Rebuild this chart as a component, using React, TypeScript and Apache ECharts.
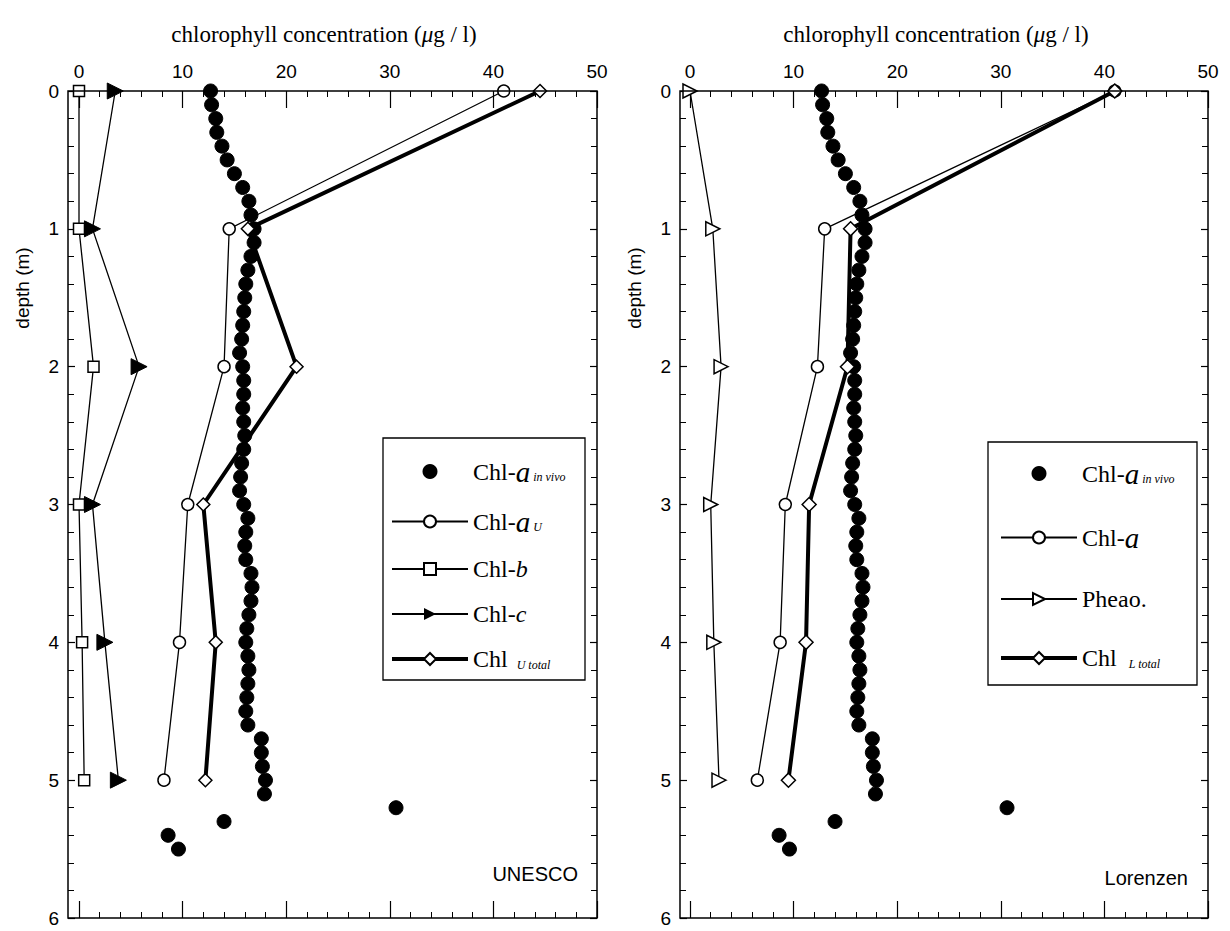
import React, { useEffect, useRef } from 'react';
import * as echarts from 'echarts';

// ---- Data ----
const profileDepths = [
  0, 0.1, 0.2, 0.3, 0.4, 0.5, 0.6, 0.7, 0.8, 0.9,
  1.0, 1.1, 1.2, 1.3, 1.4, 1.5, 1.6, 1.7, 1.8, 1.9,
  2.0, 2.1, 2.2, 2.3, 2.4, 2.5, 2.6, 2.7, 2.8, 2.9,
  3.0, 3.1, 3.2, 3.3, 3.4, 3.5, 3.6, 3.7, 3.8, 3.9,
  4.0, 4.1, 4.2, 4.3, 4.4, 4.5, 4.6, 4.7, 4.8, 4.9,
  5.0, 5.1, 5.2, 5.3, 5.4, 5.5,
];
const chlaInVivo = [
  12.7, 12.8, 13.2, 13.3, 13.8, 14.3, 15.0, 15.8, 16.4, 16.6,
  16.9, 16.9, 16.6, 16.3, 16.1, 16.0, 15.9, 15.8, 15.7, 15.5,
  15.8, 15.9, 15.9, 15.8, 15.9, 16.0, 15.9, 15.7, 15.6, 15.5,
  15.9, 16.3, 16.1, 16.0, 16.1, 16.6, 16.7, 16.6, 16.4, 16.2,
  16.1, 16.3, 16.4, 16.3, 16.2, 16.1, 16.3, 17.6, 17.6, 17.7,
  18.0, 17.9, 30.6, 14.0, 8.6, 9.6,
];
const sampleDepths = [0, 1, 2, 3, 4, 5];
// UNESCO panel
const chlaU = [41.0, 14.5, 14.0, 10.5, 9.7, 8.2];
const chlb = [0.0, 0.0, 1.4, 0.0, 0.3, 0.5];
const chlc = [3.5, 1.3, 5.8, 1.3, 2.5, 3.8];
const chlUTotal = [44.5, 16.3, 21.0, 12.0, 13.2, 12.2];
// Lorenzen panel
const chlaL = [41.0, 13.0, 12.3, 9.2, 8.7, 6.5];
const pheao = [0.0, 2.2, 3.0, 2.0, 2.3, 2.8];
const chlLTotal = [41.0, 15.5, 15.2, 11.5, 11.2, 9.5];

const SANS = '"Liberation Sans", Arial, Helvetica, sans-serif';
const SERIF = '"Liberation Serif", "Times New Roman", serif';

const pairs = (xs: number[], ys: number[]) => xs.map((x, i) => [x, ys[i]]);

function xAxes(gridIndex: number) {
  const base: any = {
    type: 'value', gridIndex, min: 0, max: 50, interval: 10,
    splitLine: { show: false }, minorSplitLine: { show: false },
    axisLine: { show: false, onZero: false },
    axisTick: { show: true, inside: true, length: 17, lineStyle: { color: '#000', width: 1.2 } },
    minorTick: { show: true, splitNumber: 5, length: 6, lineStyle: { color: '#000', width: 1 } },
  };
  return [
    { ...base, position: 'top', axisLabel: { show: true, color: '#000', fontFamily: SANS, fontSize: 19, margin: 10 } },
    { ...base, position: 'bottom', axisLabel: { show: false } },
  ];
}
function yAxes(gridIndex: number, offset: number) {
  const base: any = {
    type: 'value', gridIndex, min: 0, max: 6, interval: 1, inverse: true,
    splitLine: { show: false }, minorSplitLine: { show: false },
    axisLine: { show: false, onZero: false },
    axisTick: { show: true, inside: true, length: 7, lineStyle: { color: '#000', width: 1.2 } },
    minorTick: { show: true, splitNumber: 5, length: 6, lineStyle: { color: '#000', width: 1 } },
  };
  return [
    { ...base, position: 'left', offset, axisLabel: { show: true, color: '#000', fontFamily: SANS, fontSize: 19, margin: 9 } },
    { ...base, position: 'right', axisLabel: { show: false } },
  ];
}

const openStyle = { color: '#fff', borderColor: '#000', borderWidth: 1.5, opacity: 1 };
const solidStyle = { color: '#000', borderColor: '#000', opacity: 1 };

const legendLabels: Record<string, string> = {
  invivoU: '{n|Chl-}{a|a}{s| in vivo}',
  chlaU: '{n|Chl-}{a|a}{s| U}',
  chlb: '{n|Chl-}{i|b}',
  chlc: '{n|Chl-}{i|c}',
  totalU: '{n|Chl }{s| U total}',
  invivoL: '{n|Chl-}{a|a}{s| in vivo}',
  chlaL: '{n|Chl-}{a|a}',
  pheao: '{n|Pheao.}',
  totalL: '{n|Chl }{s|  L total}',
};
const legendRich = {
  n: { fontFamily: SERIF, fontSize: 24, lineHeight: 15, color: '#000' },
  a: { fontFamily: SERIF, fontSize: 29, fontStyle: 'italic', lineHeight: 15, color: '#000' },
  i: { fontFamily: SERIF, fontSize: 24, fontStyle: 'italic', lineHeight: 15, color: '#000' },
  s: { fontFamily: SERIF, fontSize: 12, fontStyle: 'italic', lineHeight: 23, verticalAlign: 'bottom', color: '#000' },
};

export default function App() {
  const ref = useRef<HTMLDivElement>(null);
  useEffect(() => {
    if (!ref.current) return;
    const chart = echarts.init(ref.current, undefined, { renderer: 'svg' });
    const titleRich = {
      n: { fontFamily: SERIF, fontSize: 23, color: '#000' },
      i: { fontFamily: SERIF, fontSize: 23, fontStyle: 'italic', color: '#000' },
    };
    const titleText = '{n|chlorophyll concentration (}{i|\u03bc}{n|g / l)}';
    const legendText = { fontFamily: SERIF, fontSize: 24, color: '#000', lineHeight: 15, rich: legendRich };
    const option: any = {
      animation: false,
      backgroundColor: '#fff',
      textStyle: { fontFamily: SANS },
      grid: [
        { left: 79, top: 91, width: 518, height: 827, outerBoundsMode: 'none' },
        { left: 690, top: 91, width: 518, height: 827, outerBoundsMode: 'none' },
      ],
      xAxis: [...xAxes(0), ...xAxes(1)],
      yAxis: [...yAxes(0, 11), ...yAxes(1, 10)],
      legend: [
        {
          orient: 'vertical', left: 390, top: 457, itemWidth: 76, itemHeight: 15, itemGap: 21, padding: 0,
          selectedMode: false,
          data: ['invivoU', 'chlaU', 'chlb', 'chlc', { name: 'totalU', lineStyle: { width: 4, color: '#000' } }],
          formatter: (name: string) => legendLabels[name],
          textStyle: legendText,
        },
        {
          orient: 'vertical', left: 999, top: 459, itemWidth: 76, itemHeight: 15, itemGap: 35, padding: 0,
          selectedMode: false,
          data: ['invivoL', 'chlaL', 'pheao', { name: 'totalL', lineStyle: { width: 4, color: '#000' } }],
          formatter: (name: string) => legendLabels[name],
          textStyle: legendText,
        },
      ],
      graphic: [
        { type: 'rect', shape: { x: 68, y: 91, width: 529, height: 827 }, style: { fill: 'none', stroke: '#000', lineWidth: 1.5 }, z: 100 },
        { type: 'rect', shape: { x: 680, y: 91, width: 528, height: 827 }, style: { fill: 'none', stroke: '#000', lineWidth: 1.5 }, z: 100 },
        { type: 'rect', shape: { x: 383, y: 438, width: 202, height: 242 }, style: { fill: 'none', stroke: '#000', lineWidth: 1.3 }, z: 100 },
        { type: 'rect', shape: { x: 988, y: 442, width: 209, height: 243 }, style: { fill: 'none', stroke: '#000', lineWidth: 1.3 }, z: 100 },
        { type: 'text', x: 324, y: 34, style: { text: titleText, rich: titleRich, textAlign: 'center', textVerticalAlign: 'middle' } },
        { type: 'text', x: 936, y: 34, style: { text: titleText, rich: titleRich, textAlign: 'center', textVerticalAlign: 'middle' } },
        { type: 'text', x: 22, y: 288, rotation: Math.PI / 2, style: { text: 'depth (m)', fontFamily: SANS, fontSize: 19, fill: '#000', textAlign: 'center', textVerticalAlign: 'middle' } },
        { type: 'text', x: 634, y: 288, rotation: Math.PI / 2, style: { text: 'depth (m)', fontFamily: SANS, fontSize: 19, fill: '#000', textAlign: 'center', textVerticalAlign: 'middle' } },
        { type: 'text', x: 578, y: 874, style: { text: 'UNESCO', fontFamily: SANS, fontSize: 20, fill: '#000', textAlign: 'right', textVerticalAlign: 'middle' } },
        { type: 'text', x: 1188, y: 878, style: { text: 'Lorenzen', fontFamily: SANS, fontSize: 20, fill: '#000', textAlign: 'right', textVerticalAlign: 'middle' } },
      ],
      series: [
        { name: 'invivoU', type: 'scatter', xAxisIndex: 0, yAxisIndex: 0, symbol: 'circle', symbolSize: 14, itemStyle: solidStyle, data: pairs(chlaInVivo, profileDepths), z: 2 },
        { name: 'chlaU', type: 'line', xAxisIndex: 0, yAxisIndex: 0, symbol: 'circle', symbolSize: 12, showAllSymbol: true, itemStyle: openStyle, lineStyle: { color: '#000', width: 1.3 }, data: pairs(chlaU, sampleDepths), z: 3 },
        { name: 'chlb', type: 'line', xAxisIndex: 0, yAxisIndex: 0, symbol: 'rect', symbolSize: 11, showAllSymbol: true, itemStyle: openStyle, lineStyle: { color: '#000', width: 1.3 }, data: pairs(chlb, sampleDepths), z: 3 },
        { name: 'chlc', type: 'line', xAxisIndex: 0, yAxisIndex: 0, symbol: 'triangle', symbolRotate: -90, symbolSize: 16, showAllSymbol: true, itemStyle: solidStyle, lineStyle: { color: '#000', width: 1.3 }, data: pairs(chlc, sampleDepths), z: 3 },
        { name: 'totalU', type: 'line', xAxisIndex: 0, yAxisIndex: 0, symbol: 'diamond', symbolSize: 13, showAllSymbol: true, itemStyle: openStyle, lineStyle: { color: '#000', width: 4 }, data: pairs(chlUTotal, sampleDepths), z: 4 },

        { name: 'invivoL', type: 'scatter', xAxisIndex: 2, yAxisIndex: 2, symbol: 'circle', symbolSize: 14, itemStyle: solidStyle, data: pairs(chlaInVivo, profileDepths), z: 2 },
        { name: 'chlaL', type: 'line', xAxisIndex: 2, yAxisIndex: 2, symbol: 'circle', symbolSize: 12, showAllSymbol: true, itemStyle: openStyle, lineStyle: { color: '#000', width: 1.3 }, data: pairs(chlaL, sampleDepths), z: 3 },
        { name: 'pheao', type: 'line', xAxisIndex: 2, yAxisIndex: 2, symbol: 'triangle', symbolRotate: -90, symbolSize: 14, showAllSymbol: true, itemStyle: openStyle, lineStyle: { color: '#000', width: 1.3 }, data: pairs(pheao, sampleDepths), z: 3 },
        { name: 'totalL', type: 'line', xAxisIndex: 2, yAxisIndex: 2, symbol: 'diamond', symbolSize: 14, showAllSymbol: true, itemStyle: openStyle, lineStyle: { color: '#000', width: 4 }, data: pairs(chlLTotal, sampleDepths), z: 4 },
      ],
    };
    chart.setOption(option);
    return () => chart.dispose();
  }, []);
  return <div ref={ref} style={{ position: 'absolute', left: 0, top: 0, width: 1230, height: 931 }} />;
}
